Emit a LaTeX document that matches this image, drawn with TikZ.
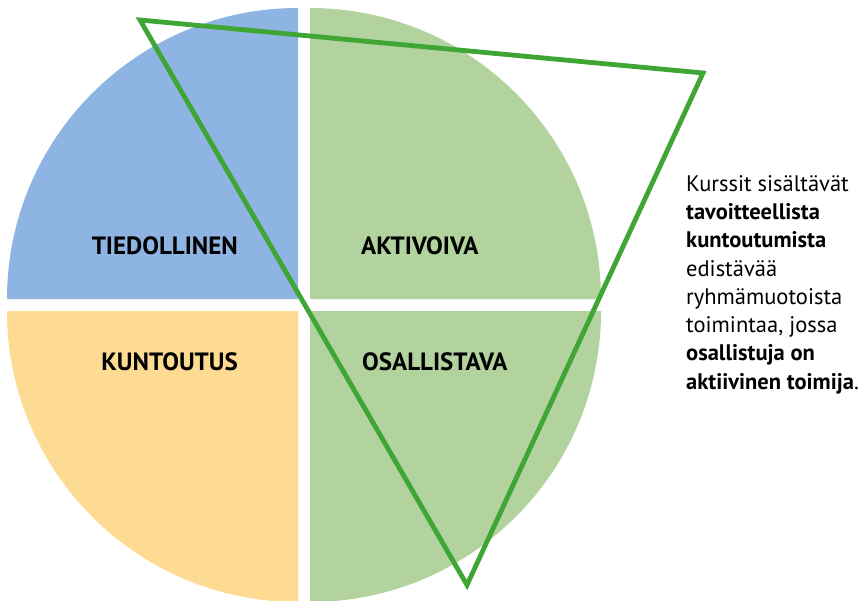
\documentclass[tikz,border=0pt]{standalone}
\usepackage{fontspec}
\setmainfont{PT Sans}
\definecolor{tietoblue}{HTML}{8DB4E2}
\definecolor{aktigreen}{HTML}{B2D39D}
\definecolor{kuntoyellow}{HTML}{FEDB93}
\definecolor{linegreen}{HTML}{3FA636}
\tikzset{
  label/.style={font=\bfseries\fontsize{25}{25}\selectfont, inner sep=0pt},
  frame/.style={draw=linegreen, line width=4.8pt, line join=miter}
}
\begin{document}
\begin{tikzpicture}[x=1pt, y=-1pt]
    \useasboundingbox (0, 0) rectangle (866, 600);

    % the four quarters
    \fill[tietoblue] (298, 299) -- ++(-291, 0) arc (180:270:291) -- cycle;
    \fill[aktigreen] (310, 299) -- ++(291, 0) arc (0:-90:291) -- cycle;
    \fill[kuntoyellow] (298, 311) -- ++(-291, 0) arc (180:90:291) -- cycle;
    \fill[aktigreen] (310, 311) -- ++(291, 0) arc (0:90:291) -- cycle;

    \node[label, anchor=east] (tied) at (238, 246) {TIEDOLLINEN};
    \node[label, anchor=west] (akti) at (361, 246) {AKTIVOIVA};
    \node[label, anchor=east] (kunto) at (238, 362) {KUNTOUTUS};
    \node[label, anchor=west] (osal) at (362, 362) {OSALLISTAVA};

    % triangle
    \coordinate (a) at (140, 20);
    \coordinate (b) at (703, 73);
    \coordinate (c) at (467, 585);
    \draw[frame] (a) -- (b) -- (c) -- cycle;

    \node[anchor=north west, align=left, inner sep=0pt,
          font=\fontsize{22.5}{28.3}\selectfont] (desc) at (686, 175)
        {Kurssit sisältävät\\
         \textbf{tavoitteellista}\\
         \textbf{kuntoutumista}\\
         edistävää\\
         ryhmämuotoista\\
         toimintaa, jossa\\
         \textbf{osallistuja on}\\
         \textbf{aktiivinen toimija}.};
\end{tikzpicture}
\end{document}
